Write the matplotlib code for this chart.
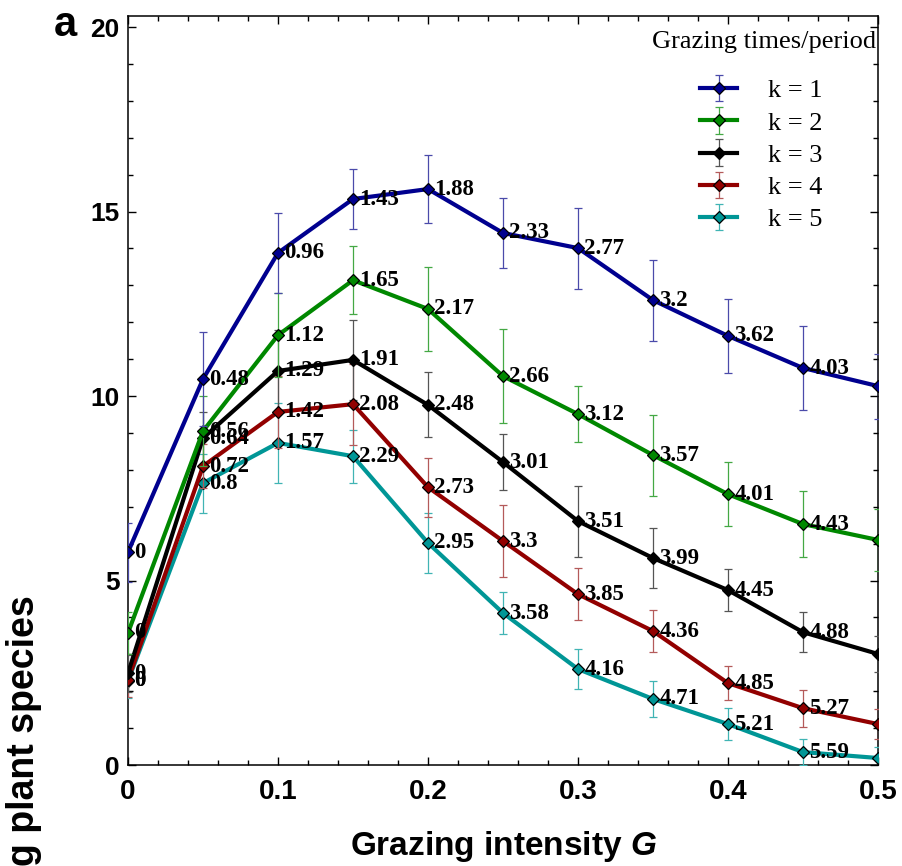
import matplotlib
matplotlib.use("Agg")
import matplotlib.pyplot as plt
from matplotlib.ticker import MultipleLocator

plt.rcParams['font.family'] = ['Liberation Sans', 'DejaVu Sans']
plt.rcParams['mathtext.fontset'] = 'custom'
plt.rcParams['mathtext.bfit'] = 'Liberation Sans:italic:bold'

# grazing intensity and mean surviving species for k = 1..5 grazing times per period
G = [0.0, 0.05, 0.1, 0.15, 0.2, 0.25, 0.3, 0.35, 0.4, 0.45, 0.5]

k1 = [5.77, 10.46, 13.88, 15.34, 15.61, 14.42, 14.01, 12.60, 11.63, 10.76, 10.27]
k2 = [3.58, 9.05, 11.65, 13.14, 12.36, 10.54, 9.51, 8.40, 7.34, 6.53, 6.10]
k3 = [2.49, 8.86, 10.68, 10.98, 9.76, 8.21, 6.61, 5.61, 4.74, 3.60, 3.01]
k4 = [2.30, 8.10, 9.57, 9.78, 7.53, 6.07, 4.63, 3.63, 2.22, 1.54, 1.11]
k5 = [2.28, 7.64, 8.73, 8.37, 6.02, 4.12, 2.60, 1.79, 1.11, 0.35, 0.19]

e1 = [0.80, 1.27, 1.08, 0.81, 0.92, 0.94, 1.10, 1.10, 1.00, 1.15, 0.88]
e2 = [0.57, 0.95, 1.13, 0.92, 1.15, 1.27, 0.76, 1.10, 0.86, 0.90, 0.84]
e3 = [0.50, 0.70, 1.10, 1.08, 0.88, 0.76, 0.96, 0.82, 0.57, 0.55, 0.50]
e4 = [0.45, 0.60, 0.97, 1.10, 0.80, 0.97, 0.70, 0.57, 0.47, 0.50, 0.40]
e5 = [0.45, 0.80, 1.08, 0.72, 0.81, 0.56, 0.55, 0.50, 0.43, 0.35, 0.30]

# numbers written next to each point
lab1 = ['0', '0.48', '0.96', '1.43', '1.88', '2.33', '2.77', '3.2', '3.62', '4.03']
lab2 = ['0', '0.56', '1.12', '1.65', '2.17', '2.66', '3.12', '3.57', '4.01', '4.43']
lab3 = ['0', '0.64', '1.29', '1.91', '2.48', '3.01', '3.51', '3.99', '4.45', '4.88']
lab4 = ['0', '0.72', '1.42', '2.08', '2.73', '3.3', '3.85', '4.36', '4.85', '5.27']
lab5 = ['0', '0.8', '1.57', '2.29', '2.95', '3.58', '4.16', '4.71', '5.21', '5.59']

names = ['k = 1', 'k = 2', 'k = 3', 'k = 4', 'k = 5']
colors = ['#00008f', '#008800', '#000000', '#920000', '#009696']
ecolors = ['#4a4aaa', '#44a844', '#555555', '#b45a5a', '#40b4b4']

series = [k1, k2, k3, k4, k5]
errors = [e1, e2, e3, e4, e5]
labels = [lab1, lab2, lab3, lab4, lab5]
serif = ['Liberation Serif', 'DejaVu Serif']

fig = plt.figure(figsize=(9.02, 8.66), dpi=100)
ax = fig.add_axes([0.1419, 0.1166, 0.8315, 0.8649])

handles = [None] * 5
for i in reversed(range(5)):
    h = ax.errorbar(G, series[i], yerr=errors[i], color=colors[i], ecolor=ecolors[i],
                    lw=3.0, elinewidth=0.9, capsize=3, capthick=0.9,
                    marker='D', ms=6.5, mfc=colors[i], mec='black', mew=0.9,
                    label=names[i], zorder=3 + (5 - i) * 0.1)
    handles[i] = h
    for x, y, t in zip(G, series[i], labels[i]):
        ax.annotate(t, (x, y), xytext=(4.5, 0), textcoords='offset points',
                    ha='left', va='center', fontsize=16.5, fontweight='bold',
                    family=serif, color='black',
                    annotation_clip=False, clip_on=True, zorder=6)

ax.set_xlim(0, 0.5)
ax.set_ylim(0, 20.3)
ax.xaxis.set_major_locator(MultipleLocator(0.1))
ax.xaxis.set_minor_locator(MultipleLocator(0.02))
ax.yaxis.set_major_locator(MultipleLocator(5))
ax.yaxis.set_minor_locator(MultipleLocator(1))
ax.tick_params(which='both', direction='in', top=True, right=True, width=1.0)
ax.tick_params(which='major', length=6)
ax.tick_params(which='minor', length=3.5)
for s in ax.spines.values():
    s.set_linewidth(1.1)

ax.set_xticks([0, 0.1, 0.2, 0.3, 0.4, 0.5])
ax.set_xticklabels(['0', '0.1', '0.2', '0.3', '0.4', '0.5'], fontsize=20,
                   fontweight='bold')
ax.set_yticks([0, 5, 10, 15, 20])
ax.set_yticklabels(['0', '5', '10', '15', '20'], fontsize=19, fontweight='bold')
ax.tick_params(axis='x', which='major', pad=10)
ax.tick_params(axis='y', which='major', pad=6)

ax.set_xlabel('Grazing intensity $\\mathbfit{G}$', fontsize=24, fontweight='bold',
              labelpad=17)
fig.text(0.047, 0.313, 'Surviving plant species', rotation=90, ha='right', va='top',
         fontsize=27, fontweight='bold')
fig.text(0.072, 0.971, 'a', ha='center', va='center', fontsize=30, fontweight='bold')

# legend title as its own text, entries underneath
ax.text(0.997, 0.965, 'Grazing times/period', transform=ax.transAxes,
        ha='right', va='center', fontsize=19, family=serif)
ax.legend(handles, names, loc='center left', bbox_to_anchor=(0.763, 0.8144),
          frameon=False, borderaxespad=0, borderpad=0,
          handlelength=1.4, handletextpad=1.15, labelspacing=0.33,
          prop={'family': serif, 'size': 19})

fig.savefig('out.png', dpi=100)
